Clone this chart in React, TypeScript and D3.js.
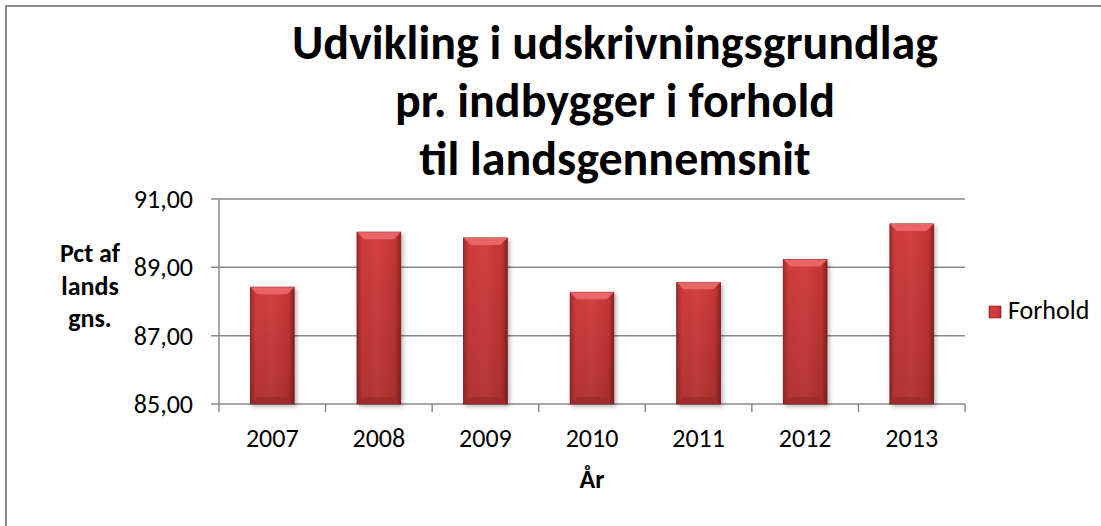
import { useEffect, useRef } from 'react'
import * as d3 from 'd3'

const years = ['2007', '2008', '2009', '2010', '2011', '2012', '2013']
const forhold = [88.42, 90.03, 89.86, 88.27, 88.56, 89.23, 90.27]
const yTicks = [85, 87, 89, 91]
const titleLines = ['Udvikling i udskrivningsgrundlag', 'pr. indbygger i forhold', 'til landsgennemsnit']
const yLabelLines = ['Pct af', 'lands', 'gns.']
const seriesName = 'Forhold'

const W = 1101
const H = 526
const FONT = "Carlito, Calibri, Lato, 'Open Sans', sans-serif"

export default function App() {
  const ref = useRef<SVGSVGElement>(null)

  useEffect(() => {
    const svg = d3.select(ref.current)
    svg.selectAll('*').remove()

    const left = 219
    const right = 965
    const top = 199
    const bottom = 404

    const x = d3.scaleBand().domain(years).range([left, right]).paddingInner(0.59).paddingOuter(0.295)
    const y = d3.scaleLinear().domain([85, 91]).range([bottom, top])

    const defs = svg.append('defs')
    const grad = defs.append('linearGradient').attr('id', 'barGrad').attr('x1', 0).attr('x2', 1)
    grad.append('stop').attr('offset', '0%').attr('stop-color', '#a82a2b')
    grad.append('stop').attr('offset', '12%').attr('stop-color', '#cf3c3c')
    grad.append('stop').attr('offset', '50%').attr('stop-color', '#d44040')
    grad.append('stop').attr('offset', '88%').attr('stop-color', '#c43535')
    grad.append('stop').attr('offset', '100%').attr('stop-color', '#8e2222')
    const vgrad = defs.append('linearGradient').attr('id', 'barShade').attr('x1', 0).attr('x2', 0).attr('y1', 0).attr('y2', 1)
    vgrad.append('stop').attr('offset', '0%').attr('stop-color', '#000').attr('stop-opacity', 0)
    vgrad.append('stop').attr('offset', '100%').attr('stop-color', '#000').attr('stop-opacity', 0.15)
    const shadow = defs.append('filter').attr('id', 'shadow').attr('x', '-20%').attr('y', '-10%').attr('width', '150%').attr('height', '130%')
    shadow.append('feDropShadow').attr('dx', 2).attr('dy', 2).attr('stdDeviation', 2).attr('flood-color', '#000').attr('flood-opacity', 0.3)

    // outer border
    svg.append('path')
      .attr('d', `M6,${H + 5} L6,6 L${W + 5},6`)
      .attr('fill', 'none')
      .attr('stroke', '#8c8c8c')
      .attr('stroke-width', 2)

    // gridlines
    svg.append('g')
      .selectAll('line')
      .data(yTicks)
      .join('line')
      .attr('x1', left - 8)
      .attr('x2', right)
      .attr('y1', (d) => y(d))
      .attr('y2', (d) => y(d))
      .attr('stroke', '#898989')
      .attr('stroke-width', 1.5)

    // y axis line
    svg.append('line')
      .attr('x1', left).attr('x2', left)
      .attr('y1', top).attr('y2', bottom)
      .attr('stroke', '#898989').attr('stroke-width', 1.5)

    // x ticks
    const step = x.step()
    svg.append('g')
      .selectAll('line')
      .data(d3.range(years.length + 1))
      .join('line')
      .attr('x1', (i) => left + i * step)
      .attr('x2', (i) => left + i * step)
      .attr('y1', bottom)
      .attr('y2', bottom + 8)
      .attr('stroke', '#898989')
      .attr('stroke-width', 1.5)

    // y tick labels
    svg.append('g')
      .selectAll('text')
      .data(yTicks)
      .join('text')
      .attr('x', 193)
      .attr('y', (d) => y(d) + 9)
      .attr('text-anchor', 'end')
      .attr('font-family', FONT)
      .attr('font-size', 26)
      .attr('fill', '#000')
      .text((d) => d.toFixed(2).replace('.', ','))

    // bars
    const bars = svg.append('g')
      .selectAll('g')
      .data(years.map((yr, i) => ({ yr, v: forhold[i] })))
      .join('g')

    const bw = x.bandwidth()
    const bev = 7
    bars.append('rect')
      .attr('x', (d) => x(d.yr)!)
      .attr('y', (d) => y(d.v))
      .attr('width', bw)
      .attr('height', (d) => y(85) - y(d.v))
      .attr('fill', 'url(#barGrad)')
      .attr('stroke', '#7a1a1a')
      .attr('stroke-width', 0.8)
      .attr('filter', 'url(#shadow)')
    bars.append('rect')
      .attr('x', (d) => x(d.yr)!)
      .attr('y', (d) => y(d.v))
      .attr('width', bw)
      .attr('height', (d) => y(85) - y(d.v))
      .attr('fill', 'url(#barShade)')
    bars.append('path')
      .attr('d', (d) => {
        const x0 = x(d.yr)!
        const y0 = y(d.v)
        return `M${x0},${y0} L${x0 + bw},${y0} L${x0 + bw - bev},${y0 + bev} L${x0 + bev},${y0 + bev} Z`
      })
      .attr('fill', '#ea6565')
    bars.append('path')
      .attr('d', (d) => {
        const x0 = x(d.yr)!
        const y1 = y(85)
        return `M${x0},${y1} L${x0 + bw},${y1} L${x0 + bw - bev},${y1 - bev} L${x0 + bev},${y1 - bev} Z`
      })
      .attr('fill', '#9c2a2a')
      .attr('opacity', 0.8)

    // x labels
    svg.append('g')
      .selectAll('text')
      .data(years)
      .join('text')
      .attr('x', (d) => x(d)! + bw / 2)
      .attr('y', 447)
      .attr('text-anchor', 'middle')
      .attr('font-family', FONT)
      .attr('font-size', 26)
      .attr('fill', '#000')
      .text((d) => d)

    // axis titles
    svg.append('text')
      .attr('x', (left + right) / 2)
      .attr('y', 488)
      .attr('text-anchor', 'middle')
      .attr('font-family', FONT)
      .attr('font-weight', 'bold')
      .attr('font-size', 26)
      .text('År')

    svg.append('g')
      .selectAll('text')
      .data(yLabelLines)
      .join('text')
      .attr('x', 90)
      .attr('y', (_, i) => 262 + i * 32.5)
      .attr('text-anchor', 'middle')
      .attr('font-family', FONT)
      .attr('font-weight', 'bold')
      .attr('font-size', 26)
      .text((d) => d)

    // title
    svg.append('g')
      .selectAll('text')
      .data(titleLines)
      .join('text')
      .attr('x', 615)
      .attr('y', (_, i) => 59 + i * 58)
      .attr('text-anchor', 'middle')
      .attr('font-family', FONT)
      .attr('font-weight', 'bold')
      .attr('font-size', 48)
      .text((d) => d)

    // legend
    svg.append('rect')
      .attr('x', 989).attr('y', 306).attr('width', 12).attr('height', 12)
      .attr('fill', 'url(#barGrad)')
      .attr('stroke', '#7a1a1a').attr('stroke-width', 0.6)
    svg.append('text')
      .attr('x', 1008).attr('y', 319)
      .attr('font-family', FONT)
      .attr('font-size', 26)
      .text(seriesName)
  }, [])

  return (
    <svg
      ref={ref}
      width={W}
      height={H}
      style={{ position: 'absolute', left: 0, top: 0, background: '#fff' }}
    />
  )
}
